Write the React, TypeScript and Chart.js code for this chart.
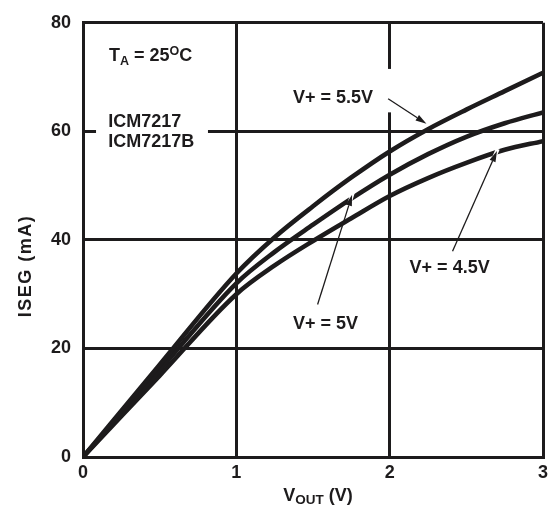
import { useEffect, useRef } from "react";
import { Chart, registerables } from "chart.js";

Chart.register(...registerables);

// V_OUT (V) sample points
const vout = [0, 0.5, 1.0, 1.25, 1.5, 1.75, 2.0, 2.25, 2.5, 2.75, 3.0];
// ISEG (mA) for each supply voltage
const iseg55 = [0, 17, 33.8, 40.5, 46.2, 51.5, 56.3, 60.4, 64.0, 67.4, 70.8];
const iseg50 = [0, 16, 32, 37.8, 42.8, 47.6, 52.0, 55.8, 59.0, 61.5, 63.5];
const iseg45 = [0, 15, 30, 35.3, 39.8, 44.0, 48.1, 51.4, 54.2, 56.6, 58.2];

const seriesLabels = ["V+ = 5.5V", "V+ = 5V", "V+ = 4.5V"];
const xTicks = [0, 1, 2, 3];
const yTicks = [0, 20, 40, 60, 80];

const INK = "#1d1b1c";
const FONT = 'Arial, "Liberation Sans", sans-serif';
const S = 18;

type Seg = { t: string; size: number; dy?: number };

function drawRich(ctx: CanvasRenderingContext2D, segs: Seg[], x: number, y: number, align: "left" | "center" = "left") {
  let total = 0;
  for (const s of segs) {
    ctx.font = `bold ${s.size}px ${FONT}`;
    total += ctx.measureText(s.t).width;
  }
  let cx = align === "center" ? x - total / 2 : x;
  ctx.textAlign = "left";
  ctx.textBaseline = "alphabetic";
  for (const s of segs) {
    ctx.font = `bold ${s.size}px ${FONT}`;
    ctx.fillText(s.t, cx, y + (s.dy || 0));
    cx += ctx.measureText(s.t).width;
  }
}

function drawArrow(ctx: CanvasRenderingContext2D, x0: number, y0: number, x1: number, y1: number) {
  const ang = Math.atan2(y1 - y0, x1 - x0);
  const headLen = 11;
  const headW = 3.2;
  const bx = x1 - headLen * Math.cos(ang);
  const by = y1 - headLen * Math.sin(ang);
  // white halo so the arrow breaks lines it crosses near the tip
  ctx.strokeStyle = "#ffffff";
  ctx.lineWidth = 4;
  ctx.beginPath();
  ctx.moveTo(bx - 6 * Math.cos(ang), by - 6 * Math.sin(ang));
  ctx.lineTo(x1 + 2 * Math.cos(ang), y1 + 2 * Math.sin(ang));
  ctx.stroke();
  ctx.strokeStyle = INK;
  ctx.lineWidth = 1.3;
  ctx.beginPath();
  ctx.moveTo(x0, y0);
  ctx.lineTo(bx, by);
  ctx.stroke();
  ctx.fillStyle = INK;
  ctx.beginPath();
  ctx.moveTo(x1, y1);
  ctx.lineTo(bx + headW * Math.sin(ang), by - headW * Math.cos(ang));
  ctx.lineTo(bx - headW * Math.sin(ang), by + headW * Math.cos(ang));
  ctx.closePath();
  ctx.fill();
}

const annotations = {
  id: "annotations",
  beforeDatasetsDraw(chart: Chart) {
    const { ctx } = chart;
    const xs = chart.scales.x;
    const ys = chart.scales.y;
    ctx.save();
    ctx.fillStyle = "#ffffff";
    // white box behind the part-number label (breaks the 60 mA grid line)
    const l = xs.getPixelForValue(0.085);
    const r = xs.getPixelForValue(0.815);
    const t = ys.getPixelForValue(64);
    const b = ys.getPixelForValue(56.5);
    ctx.fillRect(l, t, r - l, b - t);
    // white box behind "V+ = 5.5V" (breaks the 2 V grid line)
    const l2 = xs.getPixelForValue(1.3);
    const r2 = xs.getPixelForValue(2.03);
    const t2 = ys.getPixelForValue(71.5);
    const b2 = ys.getPixelForValue(63.5);
    ctx.fillRect(l2, t2, r2 - l2, b2 - t2);
    ctx.restore();
  },
  afterDatasetsDraw(chart: Chart) {
    const { ctx } = chart;
    const xs = chart.scales.x;
    const ys = chart.scales.y;
    const px = (v: number) => xs.getPixelForValue(v);
    const py = (v: number) => ys.getPixelForValue(v);
    ctx.save();

    // arrows: from label to curve
    drawArrow(ctx, px(1.99), py(66.0), px(2.24), py(61.4));
    drawArrow(ctx, px(1.53), py(28.1), px(1.755), py(48.3));
    drawArrow(ctx, px(2.41), py(37.9), px(2.70), py(56.4));

    ctx.fillStyle = INK;
    drawRich(ctx, [{ t: seriesLabels[0], size: S }], px(1.37), py(65.3));
    drawRich(ctx, [{ t: seriesLabels[1], size: S }], px(1.37), py(23.6));
    drawRich(ctx, [{ t: seriesLabels[2], size: S }], px(2.13), py(33.9));

    drawRich(
      ctx,
      [
        { t: "T", size: S },
        { t: "A", size: 12.5, dy: 4 },
        { t: " = 25", size: S },
        { t: "O", size: 12.5, dy: -6.5 },
        { t: "C", size: S },
      ],
      px(0.17),
      py(72.9)
    );
    drawRich(ctx, [{ t: "ICM7217", size: S }], px(0.165), py(60.8));
    drawRich(ctx, [{ t: "ICM7217B", size: S }], px(0.165), py(57.2));

    // axis titles
    drawRich(
      ctx,
      [
        { t: "V", size: S },
        { t: "OUT", size: 13.5, dy: 3 },
        { t: " (V)", size: S },
      ],
      318,
      501,
      "center"
    );
    ctx.translate(31, 266);
    ctx.rotate(-Math.PI / 2);
    (ctx as any).letterSpacing = "1.5px";
    drawRich(ctx, [{ t: "ISEG (mA)", size: S }], 0, 0, "center");
    (ctx as any).letterSpacing = "0px";
    ctx.restore();
  },
};

export default function App() {
  const canvasRef = useRef<HTMLCanvasElement | null>(null);
  const chartRef = useRef<Chart | null>(null);

  useEffect(() => {
    if (!canvasRef.current) {
      return;
    }
    if (chartRef.current) {
      chartRef.current.destroy();
    }

    const lineStyle = {
      borderColor: INK,
      borderWidth: 4.6,
      pointRadius: 0,
      fill: false,
      cubicInterpolationMode: "monotone" as const,
    };

    chartRef.current = new Chart(canvasRef.current, {
      type: "line",
      data: {
        datasets: [
          { label: seriesLabels[0], data: vout.map((x, i) => ({ x, y: iseg55[i] })), ...lineStyle },
          { label: seriesLabels[1], data: vout.map((x, i) => ({ x, y: iseg50[i] })), ...lineStyle },
          { label: seriesLabels[2], data: vout.map((x, i) => ({ x, y: iseg45[i] })), ...lineStyle },
        ],
      },
      options: {
        responsive: false,
        animation: false,
        layout: { padding: { left: 0, top: 16, right: 14, bottom: 0 } },
        plugins: {
          legend: { display: false },
          tooltip: { enabled: false },
        },
        scales: {
          x: {
            type: "linear",
            min: 0,
            max: 3,
            afterBuildTicks: (s) => {
              s.ticks = xTicks.map((v) => ({ value: v }));
            },
            afterFit: (s) => {
              s.height = 53;
            },
            ticks: {
              color: INK,
              padding: 5,
              font: { family: FONT, weight: "bold", size: S },
            },
            grid: { color: INK, lineWidth: 3, drawTicks: false },
            border: { display: true, color: INK, width: 3 },
          },
          y: {
            type: "linear",
            min: 0,
            max: 80,
            afterBuildTicks: (s) => {
              s.ticks = yTicks.map((v) => ({ value: v }));
            },
            afterFit: (s) => {
              s.width = 83;
            },
            ticks: {
              color: INK,
              padding: 12,
              font: { family: FONT, weight: "bold", size: S },
            },
            grid: { color: INK, lineWidth: 3, drawTicks: false },
            border: { display: true, color: INK, width: 3 },
          },
        },
      },
      plugins: [annotations],
    });

    return () => {
      chartRef.current?.destroy();
      chartRef.current = null;
    };
  }, []);

  return (
    <div style={{ position: "absolute", left: 0, top: 0, width: 557, height: 510, background: "#fff" }}>
      <canvas ref={canvasRef} width={557} height={510}></canvas>
    </div>
  );
}
